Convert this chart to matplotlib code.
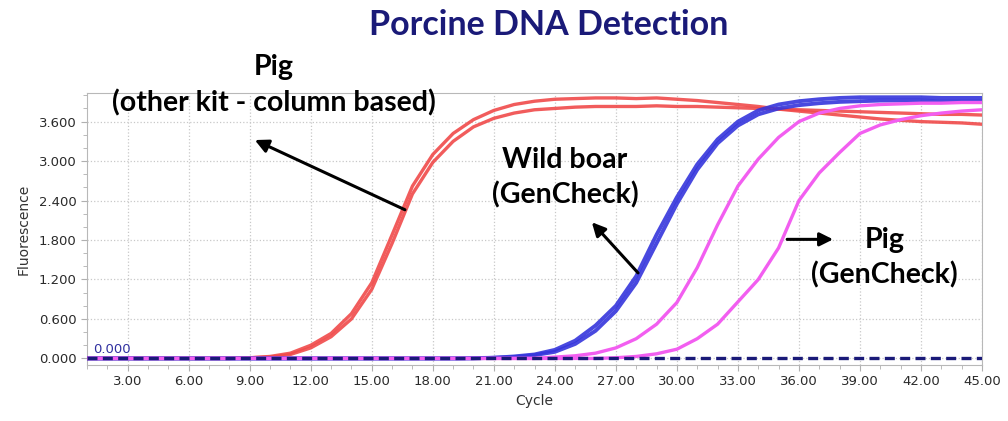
import numpy as np
import matplotlib
matplotlib.use("Agg")
import matplotlib.pyplot as plt
from matplotlib.ticker import MultipleLocator

# ---- data (fluorescence per cycle) ----
cycles = list(range(1, 46))

red_a = [0.0] * 8 + [0.01, 0.03, 0.08, 0.2, 0.38, 0.68, 1.15, 1.88, 2.62, 3.1,
                      3.42, 3.63, 3.77, 3.86, 3.91, 3.94, 3.95, 3.96, 3.96, 3.95,
                      3.96, 3.94, 3.92, 3.89, 3.86, 3.83, 3.79, 3.76, 3.73, 3.70,
                      3.67, 3.64, 3.62, 3.60, 3.59, 3.58, 3.56]
red_b = [0.0] * 8 + [0.01, 0.02, 0.06, 0.16, 0.33, 0.6, 1.05, 1.75, 2.5, 2.98,
                      3.3, 3.52, 3.65, 3.73, 3.78, 3.80, 3.82, 3.83, 3.83, 3.83,
                      3.84, 3.83, 3.83, 3.82, 3.81, 3.80, 3.79, 3.78, 3.77, 3.76,
                      3.75, 3.74, 3.73, 3.72, 3.71, 3.71, 3.70]
blue_a = [0.0] * 19 + [0.005, 0.01, 0.03, 0.06, 0.13, 0.27, 0.5, 0.8, 1.25, 1.88,
                       2.45, 2.95, 3.33, 3.6, 3.77, 3.86, 3.91, 3.94, 3.96, 3.97,
                       3.97, 3.97, 3.97, 3.96, 3.96, 3.96]
blue_b = [0.0] * 19 + [0.0, 0.01, 0.02, 0.05, 0.1, 0.22, 0.42, 0.72, 1.15, 1.75,
                       2.35, 2.87, 3.27, 3.54, 3.71, 3.8, 3.85, 3.88, 3.9, 3.91,
                       3.92, 3.92, 3.92, 3.91, 3.91, 3.91]
pink_a = [0.0] * 23 + [0.02, 0.04, 0.08, 0.16, 0.3, 0.52, 0.85, 1.38, 2.03, 2.62,
                       3.03, 3.36, 3.6, 3.73, 3.8, 3.84, 3.86, 3.87, 3.88, 3.88,
                       3.89, 3.89]
pink_b = [0.0] * 26 + [0.01, 0.03, 0.07, 0.14, 0.3, 0.52, 0.86, 1.2, 1.68, 2.4,
                       2.82, 3.13, 3.42, 3.55, 3.63, 3.69, 3.73, 3.76, 3.78]
threshold = 0.0

y_ticks = [0.0, 0.6, 1.2, 1.8, 2.4, 3.0, 3.6]
x_ticks = [3, 6, 9, 12, 15, 18, 21, 24, 27, 30, 33, 36, 39, 42, 45]

RED = '#f04a4a'
BLUE = '#3535dc'
PINK = '#f25ef0'
NAVY = '#1a1a78'
LABEL_FONT = ['Lato', 'DejaVu Sans']

fig = plt.figure(figsize=(10.08, 4.21), dpi=100, facecolor='white')
ax = fig.add_axes([87 / 1008, 1 - 365 / 421, 895 / 1008, (365 - 93) / 421])

ax.plot(cycles, red_b, color=RED, lw=2.4, alpha=0.9, zorder=3)
ax.plot(cycles, red_a, color=RED, lw=2.4, alpha=0.9, zorder=3)
ax.plot(cycles, blue_b, color=BLUE, lw=2.8, alpha=0.9, zorder=4)
ax.plot(cycles, blue_a, color=BLUE, lw=2.8, alpha=0.9, zorder=4)
ax.plot(cycles, pink_a, color=PINK, lw=2.4, zorder=5)
ax.plot(cycles, pink_b, color=PINK, lw=2.4, zorder=5)
ax.axhline(threshold, color=NAVY, lw=2.4, ls=(0, (3, 1.6)), zorder=6)
ax.text(1.3, threshold + 0.04, '0.000', color='#3030a0', fontsize=9.5,
        ha='left', va='bottom', zorder=7)

ax.set_xlim(1, 45)
ax.set_ylim(-0.1, 4.035)
ax.set_xticks(x_ticks)
ax.set_xticklabels([f'{t:.2f}' for t in x_ticks])
ax.set_yticks(y_ticks)
ax.set_yticklabels([f'{t:.3f}' for t in y_ticks])
ax.xaxis.set_minor_locator(MultipleLocator(1))
ax.yaxis.set_minor_locator(MultipleLocator(0.2))
ax.tick_params(which='both', colors='#b0b0b0', labelcolor='#2a2a2a', labelsize=9.5)
ax.tick_params(which='major', length=4)
ax.tick_params(which='minor', length=3)
ax.grid(True, which='major', color='#c8c8c8', ls=':', lw=0.9)
for s in ax.spines.values():
    s.set_color('#b8b8b8')

ax.set_xlabel('Cycle', fontsize=10, color='#333333', labelpad=4)
ax.set_ylabel('Fluorescence', fontsize=10, color='#333333', labelpad=6)

# ---- annotations ----
arrow = dict(arrowstyle='-|>', color='black', lw=2.2, mutation_scale=20,
             shrinkA=0, shrinkB=0)
ax.annotate('', xy=(9.25, 3.32), xytext=(16.63, 2.26), arrowprops=arrow, zorder=8)
ax.annotate('', xy=(25.82, 2.07), xytext=(28.09, 1.30), arrowprops=arrow, zorder=8)
ax.annotate('', xy=(37.68, 1.81), xytext=(35.42, 1.81), arrowprops=arrow, zorder=8)

txt = dict(fontsize=20.5, fontweight='bold', family=LABEL_FONT, ha='center',
           va='center', linespacing=1.4, zorder=9)
ax.text(10.2, 4.15, 'Pig\n(other kit - column based)', clip_on=False, **txt)
ax.text(24.5, 2.75, 'Wild boar\n(GenCheck)', **txt)
ax.text(40.2, 1.53, 'Pig\n(GenCheck)', **txt)

fig.text(0.544, 0.94, 'Porcine DNA Detection', color=NAVY, fontsize=24.5,
         fontweight='bold', family=LABEL_FONT, ha='center', va='center')

fig.savefig('out.png', dpi=100, facecolor='white')
